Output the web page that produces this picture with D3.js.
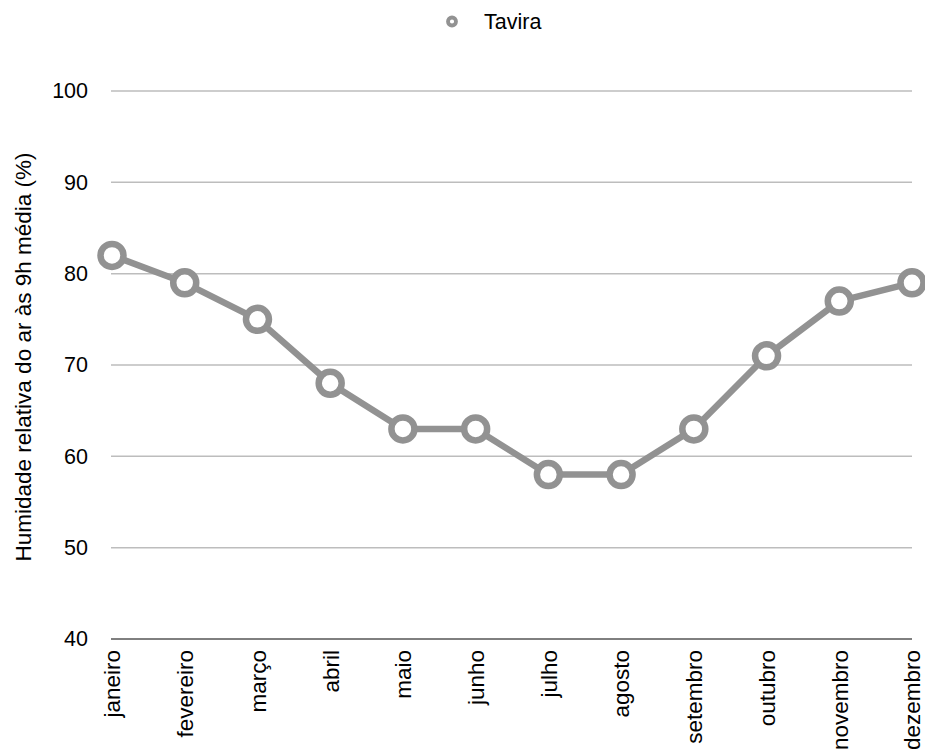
<!DOCTYPE html>
<html>
<head>
<meta charset="utf-8">
<script src="https://cdn.jsdelivr.net/npm/d3@7"></script>
<style>
  html, body { margin: 0; padding: 0; background: #fff; }
  svg { display: block; font-family: "Liberation Sans", Arial, Helvetica, sans-serif; }
</style>
</head>
<body>
<svg id="chart" width="925" height="751"></svg>
<script>
// Monthly mean relative humidity at 9h, Tavira
const months = ["janeiro", "fevereiro", "março", "abril", "maio", "junho",
                "julho", "agosto", "setembro", "outubro", "novembro", "dezembro"];
const humidity = [82, 79, 75, 68, 63, 63, 58, 58, 63, 71, 77, 79];
const yTicks = [40, 50, 60, 70, 80, 90, 100];
const seriesName = "Tavira";
const yTitle = "Humidade relativa do ar às 9h média (%)";

const svg = d3.select("#chart");
const margin = { left: 112, right: 13, top: 91, bottom: 112 };
const W = 925, H = 751;
const fontSize = 21.5;
const fontFamily = "Liberation Sans, Arial, Helvetica, sans-serif";

const x = d3.scalePoint().domain(months).range([margin.left, W - margin.right]);
const y = d3.scaleLinear().domain([40, 100]).range([H - margin.bottom, margin.top]);

const lineColor = "#929292";

// horizontal gridlines
svg.append("g")
  .selectAll("line")
  .data(yTicks.filter(d => d !== 40))
  .join("line")
  .attr("x1", margin.left - 1)
  .attr("x2", W - margin.right)
  .attr("y1", d => y(d))
  .attr("y2", d => y(d))
  .attr("stroke", "#bdbdbd")
  .attr("stroke-width", 1.5);

// baseline at 40
svg.append("line")
  .attr("x1", margin.left - 1)
  .attr("x2", W - margin.right)
  .attr("y1", y(40))
  .attr("y2", y(40))
  .attr("stroke", "#000")
  .attr("stroke-width", 1);

// y tick labels
const yAxis = d3.axisLeft(y).tickValues(yTicks).tickSize(0).tickPadding(24);
const gy = svg.append("g").attr("transform", `translate(${margin.left},0)`).call(yAxis);
gy.select(".domain").remove();
gy.selectAll("text").attr("font-size", fontSize).attr("fill", "#000")
  .attr("font-family", fontFamily);

// x tick labels (rotated)
const xAxis = d3.axisBottom(x).tickSize(0).tickPadding(0);
const gx = svg.append("g").attr("transform", `translate(0,${y(40)})`).call(xAxis);
gx.select(".domain").remove();
gx.selectAll("text")
  .attr("font-size", 22.5)
  .attr("fill", "#000")
  .attr("font-family", fontFamily)
  .attr("transform", "rotate(-90)")
  .attr("text-anchor", "end")
  .attr("x", -11)
  .attr("y", 0)
  .attr("dy", "0.35em");

// y axis title
svg.append("text")
  .attr("transform", `translate(31,357) rotate(-90)`)
  .attr("text-anchor", "middle")
  .attr("font-size", 22.5)
  .attr("font-family", fontFamily)
  .attr("fill", "#000")
  .text(yTitle);

// series line
const line = d3.line().x((d, i) => x(months[i])).y(d => y(d));
svg.append("path")
  .datum(humidity)
  .attr("d", line)
  .attr("fill", "none")
  .attr("stroke", lineColor)
  .attr("stroke-width", 6.5)
  .attr("stroke-linejoin", "round");

// markers
svg.append("g")
  .selectAll("circle")
  .data(humidity)
  .join("circle")
  .attr("cx", (d, i) => x(months[i]))
  .attr("cy", d => y(d))
  .attr("r", 11.5)
  .attr("fill", "#fff")
  .attr("stroke", lineColor)
  .attr("stroke-width", 6.5);

// legend
const lg = svg.append("g").attr("transform", "translate(452,21.5)");
lg.append("circle").attr("r", 4).attr("fill", "#fff")
  .attr("stroke", lineColor).attr("stroke-width", 3.8);
lg.append("text").attr("x", 32).attr("dy", "0.35em")
  .attr("font-size", fontSize).attr("font-family", fontFamily)
  .attr("fill", "#000").text(seriesName);
</script>
</body>
</html>
